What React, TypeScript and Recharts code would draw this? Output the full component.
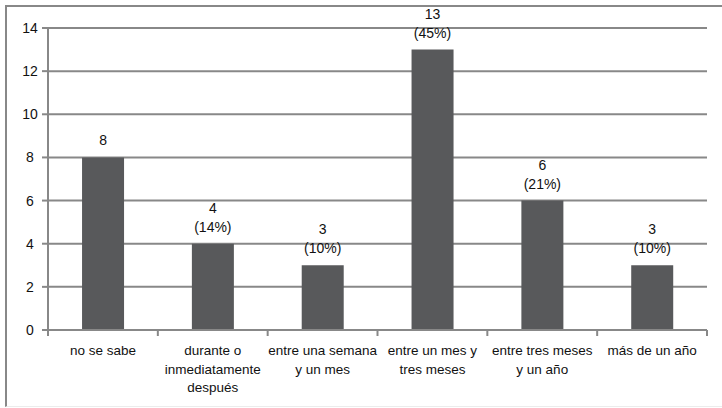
import { BarChart, Bar, XAxis, YAxis, CartesianGrid, LabelList } from 'recharts'

const categories = [
  'no se sabe',
  'durante o\ninmediatamente\ndespués',
  'entre una semana\ny un mes',
  'entre un mes y\ntres meses',
  'entre tres meses\ny un año',
  'más de un año',
]
const counts = [8, 4, 3, 13, 6, 3]
const percents = ['', '(14%)', '(10%)', '(45%)', '(21%)', '(10%)']
const yTicks = [0, 2, 4, 6, 8, 10, 12, 14]

const data = categories.map((name, i) => ({
  name,
  count: counts[i],
  label: percents[i] ? `${counts[i]}\n${percents[i]}` : `${counts[i]}`,
}))

const GRID = '#888888'
const BAR = '#58595b'
const FONT = '"Liberation Sans", Arial, sans-serif'

function XTick(props: any) {
  const { x, y, payload } = props
  const half = payload?.offset ?? 0
  const lines = String(payload.value).split('\n')
  return (
    <g>
      <line x1={x - half} x2={x - half} y1={y - 8} y2={y - 2} stroke={GRID} strokeWidth={2} />
      {payload.index === categories.length - 1 && (
        <line x1={x + half} x2={x + half} y1={y - 8} y2={y - 2} stroke={GRID} strokeWidth={2} />
      )}
      <text x={x} y={y + 17} textAnchor="middle" fill="#111" fontSize={13.5} fontFamily={FONT}>
        {lines.map((l, i) => (
          <tspan key={i} x={x} dy={i === 0 ? 0 : 18.5}>{l}</tspan>
        ))}
      </text>
    </g>
  )
}

function YTick(props: any) {
  const { x, y, payload } = props
  return (
    <text x={x - 10} y={y + 5} textAnchor="middle" fill="#111" fontSize={14} fontFamily={FONT}>
      {payload.value}
    </text>
  )
}

function BarLabel(props: any) {
  const { x, y, width, value } = props
  const lines = String(value).split('\n')
  const cx = x + width / 2
  return (
    <text x={cx} y={y - 12 - (lines.length - 1) * 19} textAnchor="middle" fill="#111" fontSize={14} fontFamily={FONT}>
      {lines.map((l, i) => (
        <tspan key={i} x={cx} dy={i === 0 ? 0 : 19}>{l}</tspan>
      ))}
    </text>
  )
}

export default function App() {
  return (
    <div style={{ position: 'absolute', left: 0, top: 0, width: 722, height: 408, background: '#fff' }}>
      <div
        style={{
          position: 'absolute', left: 5, top: 5, width: 717, height: 402,
          borderTop: `2px solid ${GRID}`, borderLeft: `2px solid ${GRID}`,
          borderBottom: '1px solid #ececec', boxSizing: 'border-box',
        }}
      />
      <div style={{ position: 'absolute', left: 0, top: 0 }}>
        <BarChart
          width={722}
          height={408}
          data={data}
          margin={{ top: 28, right: 15, left: 0, bottom: 8 }}
          barCategoryGap="31%"
        >
          <CartesianGrid vertical={false} stroke={GRID} strokeWidth={2} />
          <XAxis
            dataKey="name"
            interval={0}
            height={70}
            stroke={GRID}
            strokeWidth={2}
            tickLine={false}
            tick={<XTick />}
            tickSize={0}
            tickMargin={8}
          />
          <YAxis
            width={48}
            domain={[0, 14]}
            ticks={yTicks}
            stroke={GRID}
            strokeWidth={2}
            tickSize={6}
            tick={<YTick />}
          />
          <Bar dataKey="count" fill={BAR} isAnimationActive={false}>
            <LabelList dataKey="label" content={<BarLabel />} />
          </Bar>
        </BarChart>
      </div>
    </div>
  )
}
